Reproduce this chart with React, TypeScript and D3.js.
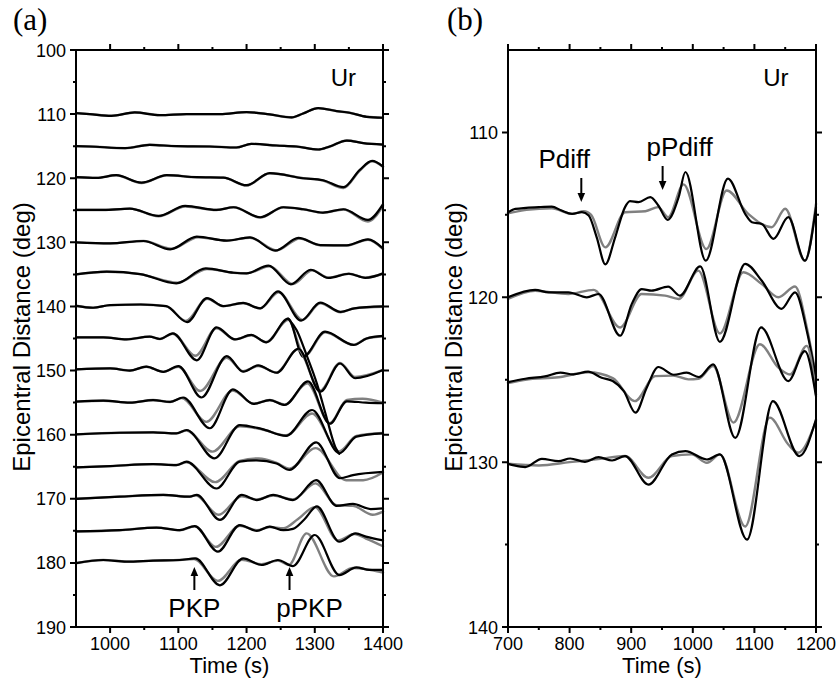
import React from 'react';
import * as d3 from 'd3';

type P = [number, number];

// ---------- Panel (a): PKP records, Ur component ----------
const distancesA = [110, 115, 120, 125, 130, 135, 140, 145, 150, 155, 160, 165, 170, 175, 180];

const a110: P[] = [[950,0.16],[970,0],[1002,-0.26],[1036,0.26],[1073,-0.16],[1112,0],[1161,0],[1200,0.31],[1234,-0.05],[1266,-0.52],[1283,0.1],[1305,0.94],[1332,0.47],[1351,0.21],[1376,-0.42],[1400,-0.57]];
const a115: P[] = [[950,0],[970,-0.05],[1022,-0.31],[1058,0.21],[1097,0],[1146,-0.05],[1185,-0.21],[1207,0.36],[1244,0.1],[1273,-0.05],[1305,-0.52],[1322,-0.05],[1347,0.88],[1371,0.47],[1400,0.25]];
const a120: P[] = [[950,0.16],[980,0.05],[1009,0.47],[1046,-0.68],[1083,0.47],[1127,0.16],[1166,0.1],[1200,-1.09],[1234,0.78],[1283,0],[1312,-0.31],[1342,-1.4],[1366,1.3],[1384,2.7],[1400,1.82]];
const a120g: P[] = [[950,0.16],[980,0.05],[1009,0.47],[1046,-0.75],[1083,0.47],[1127,0.16],[1166,0.1],[1200,-1.15],[1234,0.78],[1283,0],[1312,-0.36],[1342,-1.55],[1366,1.2],[1384,2.65],[1400,1.8]];
const a125: P[] = [[950,0.05],[990,0.05],[1029,0.26],[1071,-0.88],[1110,0.68],[1156,0.05],[1181,0.47],[1220,-1.09],[1254,0.47],[1283,0.16],[1312,-0.36],[1342,0.16],[1378,-1.5],[1400,0.95]];
const a125g: P[] = [[950,0.05],[990,0.05],[1029,0.26],[1071,-0.95],[1110,0.6],[1156,0.05],[1181,0.47],[1220,-1.15],[1254,0.47],[1283,0.16],[1312,-0.4],[1342,0.12],[1378,-1.75],[1400,0.7]];
const a130: P[] = [[950,0],[1000,-0.16],[1049,0.21],[1088,-1.09],[1127,0.88],[1171,0.26],[1205,0.78],[1242,-1.3],[1276,0.68],[1308,-0.42],[1347,-0.47],[1378,0.47],[1400,-0.94]];
const a130g: P[] = [[950,0],[1000,-0.16],[1049,0.21],[1090,-1.0],[1129,0.8],[1171,0.26],[1205,0.72],[1244,-1.25],[1278,0.6],[1308,-0.45],[1347,-0.47],[1378,0.4],[1400,-1.05]];
const a135: P[] = [[950,0],[995,0.42],[1044,0.05],[1097,-1.4],[1140,0.95],[1181,0.26],[1200,0.16],[1232,1.38],[1265,-1.55],[1294,0.72],[1320,-0.55],[1350,0.1],[1374,-0.55],[1400,0.16]];
const a135g: P[] = [[950,0],[995,0.42],[1044,0.05],[1099,-1.3],[1142,0.85],[1181,0.26],[1200,0.16],[1234,1.25],[1268,-1.5],[1296,0.65],[1320,-0.5],[1350,0.1],[1374,-0.5],[1400,0.1]];
const a140: P[] = [[950,0.1],[975,-0.2],[1000,0.2],[1045,0.3],[1082,0.05],[1113,-2.45],[1142,1.3],[1166,0.05],[1195,0.55],[1220,-0.3],[1246,2.35],[1280,-2.2],[1308,0.6],[1338,-0.85],[1358,-0.3],[1400,0]];
const a140g: P[] = [[950,0.1],[975,-0.2],[1000,0.2],[1045,0.3],[1082,0.05],[1111,-2.25],[1142,1.2],[1166,0.05],[1195,0.5],[1220,-0.3],[1247,2.2],[1282,-2.1],[1308,0.5],[1338,-0.9],[1358,-0.3],[1400,-0.05]];
const a145: P[] = [[950,0.18],[990,0.18],[1024,-0.13],[1058,0.29],[1073,-0.08],[1092,0.8],[1127,-3.4],[1156,1.74],[1183,-0.13],[1207,0.55],[1229,-0.6],[1261,3.1],[1283,-2.85],[1315,1.07],[1357,-1.0],[1376,0],[1400,0.4]];
const a145g: P[] = [[950,0.18],[990,0.18],[1024,-0.13],[1058,0.29],[1073,-0.08],[1092,0.75],[1125,-2.7],[1156,1.6],[1183,-0.13],[1207,0.5],[1229,-0.55],[1261,2.9],[1285,-2.7],[1315,0.95],[1357,-1.0],[1376,0],[1400,0.35]];
const a150: P[] = [[950,0.18],[1000,0.34],[1029,0],[1053,0.6],[1078,-0.2],[1100,0.7],[1134,-4.2],[1171,2.26],[1195,-0.18],[1217,0.8],[1244,-0.34],[1276,3.4],[1308,-3.3],[1337,1.1],[1359,-1.2],[1400,0.08]];
const a150g: P[] = [[950,0.18],[1000,0.34],[1029,0],[1053,0.6],[1078,-0.2],[1100,0.6],[1132,-3.2],[1171,2.0],[1195,-0.1],[1217,0.7],[1244,-0.3],[1275,3.3],[1308,-3.1],[1337,1.2],[1359,-1.0],[1400,0.1]];
const a155: P[] = [[950,0.15],[990,0.3],[1029,0],[1063,0.4],[1088,0.1],[1107,0.8],[1146,-4.0],[1180,2.07],[1210,-0.2],[1234,0.4],[1256,-0.37],[1290,3.3],[1322,-3.3],[1347,0.2],[1375,0],[1400,-0.1]];
const a155g: P[] = [[950,0.15],[990,0.3],[1029,0],[1063,0.4],[1088,0.1],[1105,0.7],[1141,-3.0],[1180,1.9],[1210,-0.15],[1234,0.4],[1256,-0.3],[1289,3.0],[1322,-3.2],[1347,0.4],[1370,0.6],[1400,0]];
const a160: P[] = [[950,0.05],[1014,0.3],[1063,0.36],[1097,0.2],[1112,0.73],[1153,-3.7],[1190,1.5],[1222,0.9],[1258,-0.2],[1296,3.85],[1336,-2.9],[1361,-0.3],[1400,0.2]];
const a160g: P[] = [[950,0.05],[1014,0.3],[1063,0.36],[1097,0.2],[1112,0.65],[1150,-2.65],[1190,1.3],[1222,0.85],[1258,-0.1],[1296,3.3],[1336,-2.6],[1361,-0.2],[1400,0.25]];
const a165: P[] = [[950,-0.1],[1000,0.1],[1063,0.4],[1097,0.26],[1112,0.78],[1156,-3.4],[1190,0.8],[1215,1.0],[1244,0.5],[1263,-0.5],[1302,3.8],[1337,-1.8],[1356,-1.3],[1400,-0.8]];
const a165g: P[] = [[950,-0.1],[1000,0.1],[1063,0.4],[1097,0.26],[1112,0.7],[1154,-2.4],[1190,0.9],[1218,1.3],[1244,0.6],[1263,-0.3],[1301,2.9],[1346,-2.1],[1371,-2.1],[1400,-0.9]];
const a170: P[] = [[950,0],[1014,0.33],[1078,0.6],[1117,0.33],[1127,0.6],[1161,-3.3],[1193,0.6],[1215,-0.2],[1239,0.6],[1268,-0.2],[1302,2.9],[1332,-1.1],[1356,-0.8],[1382,-1.6],[1400,-1.5]];
const a170g: P[] = [[950,0],[1014,0.33],[1078,0.6],[1117,0.33],[1125,0.55],[1159,-2.5],[1193,0.4],[1215,-0.1],[1239,0.5],[1268,-0.1],[1301,2.4],[1332,-1.0],[1356,-1.1],[1385,-2.5],[1400,-2.0]];
const a175: P[] = [[950,-0.1],[1014,0.1],[1068,0.5],[1102,0.1],[1124,0.75],[1158,-3.25],[1190,0.9],[1215,0],[1234,0.65],[1254,0.1],[1268,0.3],[1285,1.8],[1303,3.8],[1336,-1.7],[1360,-0.4],[1375,-0.9],[1400,-1.5]];
const a175g: P[] = [[950,-0.1],[1014,0.1],[1068,0.5],[1102,0.1],[1124,0.7],[1155,-2.5],[1190,0.8],[1215,0.1],[1234,0.6],[1254,0.4],[1275,1.8],[1300,3.7],[1334,-1.5],[1358,-0.5],[1375,-1.2],[1400,-2.4]];
const a180: P[] = [[950,-0.05],[990,0.45],[1024,0.2],[1063,0.35],[1102,0.45],[1125,0.7],[1161,-3.5],[1195,0.7],[1222,-0.33],[1246,0.45],[1268,-0.5],[1300,4.35],[1336,-1.9],[1361,-0.7],[1380,-1.1],[1400,-1.1]];
const a180g: P[] = [[950,-0.05],[990,0.45],[1024,0.2],[1063,0.35],[1102,0.45],[1123,0.6],[1158,-2.8],[1193,0.5],[1222,-0.2],[1246,0.35],[1262,-0.3],[1288,4.6],[1328,-2.1],[1356,-0.8],[1400,-1.5]];

// black segment joining the 145 deg peak to the 160 deg trough ([time, distance])
const aCross: P[] = [[1261,141.9],[1273.5,143.7],[1288,147.6],[1303,152.0],[1317,157.2],[1330,161.9],[1336,163.0]];

const blackA = [a110, a115, a120, a125, a130, a135, a140, a145, a150, a155, a160, a165, a170, a175, a180];
const grayA = [a110, a115, a120g, a125g, a130g, a135g, a140g, a145g, a150g, a155g, a160g, a165g, a170g, a175g, a180g];

const phasesA = ['PKP', 'pPKP'];
const phaseTimesA = [1123.5, 1263];

const xTicksA = [1000, 1100, 1200, 1300, 1400];
const xMinorA = [1050, 1150, 1250, 1350];
const yTicksA = [100, 110, 120, 130, 140, 150, 160, 170, 180, 190];
const yMinorA = [105, 115, 125, 135, 145, 155, 165, 175, 185];

// ---------- Panel (b): Pdiff records, Ur component ----------
const distancesB = [115, 120, 125, 130];

const b115: P[] = [[700,0.15],[712,0.36],[750,0.47],[771,0.5],[787,0.26],[804,0.06],[820,0.16],[831,-0.04],[844,-1.36],[858,-3.0],[874,-1.36],[890,0.47],[898,0.83],[912,0.77],[931,1.07],[944,0.57],[959,-0.3],[977,1.07],[988,2.6],[1021,-2.78],[1057,2.2],[1085,0.06],[1096,-0.45],[1112,-0.55],[1131,-1.46],[1155,-0.14],[1182,-2.78],[1200,0.47]];
const b115g: P[] = [[700,0.1],[730,0.3],[771,0.4],[804,0.06],[823,0.22],[835,0],[858,-1.97],[890,0.16],[923,0.22],[944,0.47],[960,-0.14],[985,1.85],[1022,-2.07],[1055,1.48],[1090,0.06],[1128,-0.75],[1150,0.37],[1182,-2.78],[1200,0.67]];
const b120: P[] = [[700,0],[744,0.45],[766,0.3],[798,0.3],[828,0],[847,0.2],[882,-2.33],[901,-0.4],[917,0.5],[933,0.4],[960,0.65],[979,0.1],[1012,1.87],[1044,-2.7],[1085,2.03],[1112,1.0],[1144,-0.7],[1166,0.3],[1186,-2.2],[1200,-4.9]];
const b120g: P[] = [[700,-0.1],[744,0.4],[798,0.2],[839,0.45],[882,-1.83],[917,0.2],[955,0.1],[977,-0.1],[1009,1.62],[1044,-2.2],[1082,1.52],[1112,0.8],[1139,0],[1166,0.65],[1186,-2.0],[1200,-4.8]];
const b125: P[] = [[700,-0.15],[728,0.06],[760,0.2],[785,0.43],[806,0.32],[830,0.49],[852,0.12],[870,-0.08],[888,-0.69],[907,-2.0],[925,-0.5],[944,0.77],[969,0.3],[990,0.43],[1010,0.16],[1033,0.93],[1069,-3.53],[1111,3.17],[1155,-0.08],[1182,1.74],[1200,-1.0]];
const b125g: P[] = [[700,-0.2],[728,0],[782,0.15],[830,0.45],[870,0.1],[906,-1.3],[939,0.22],[968,0.25],[993,0.02],[1009,0.05],[1033,0.83],[1066,-2.6],[1109,2.15],[1139,0.73],[1158,0.32],[1185,2.05],[1200,-0.9]];
const b130: P[] = [[700,-0.1],[710,-0.2],[728,-0.3],[755,0.2],[782,0.06],[801,0.22],[825,0.02],[847,0.3],[869,0.1],[890,0.37],[928,-1.36],[966,0.47],[988,0.67],[1023,0.16],[1044,0.47],[1088,-4.7],[1130,3.7],[1173,0.37],[1200,2.6]];
const b130g: P[] = [[700,-0.1],[750,-0.2],[800,0.0],[850,0.2],[890,0.37],[928,-0.95],[966,0.37],[998,0.47],[1023,-0.04],[1044,0.47],[1085,-3.9],[1125,2.7],[1155,1.07],[1171,0.57],[1200,2.5]];

const blackB = [b115, b120, b125, b130];
const grayB = [b115g, b120g, b125g, b130g];

const phasesB = ['Pdiff', 'pPdiff'];
const phaseTimesB = [819, 951];

const xTicksB = [700, 800, 900, 1000, 1100, 1200];
const xMinorB = [750, 850, 950, 1050, 1150];
const yTicksB = [110, 120, 130, 140];
const yMinorB = [115, 125, 135];

// ---------- layout ----------
const W = 838, H = 678;
const TOP = 50, BOTTOM = 627;
const SANS = '"Liberation Sans", Arial, Helvetica, sans-serif';
const SERIF = '"Liberation Serif", "Times New Roman", serif';
const GRAY = '#808080';

type Lin = d3.ScaleLinear<number, number>;

function Frame({ x, y, xt, xm, yt, ym }: { x: Lin; y: Lin; xt: number[]; xm: number[]; yt: number[]; ym: number[] }) {
  const [x0, x1] = x.range();
  const [y0, y1] = y.range();
  const MAJ = 6, MIN = 3;
  const segs: string[] = [];
  const all = [...xt.map(v => [v, MAJ]), ...xm.map(v => [v, MIN])];
  all.forEach(([v, L]) => {
    const px = x(v);
    segs.push(`M${px},${y0}V${y0 - L}`);
    segs.push(`M${px},${y1}V${y1 + L}`);
  });
  const ally = [...yt.map(v => [v, MAJ]), ...ym.map(v => [v, MIN])];
  ally.forEach(([v, L]) => {
    const py = y(v);
    segs.push(`M${x0},${py}H${x0 - L}`);
    segs.push(`M${x1},${py}H${x1 + L}`);
  });
  return (
    <g>
      <path d={segs.join('')} stroke="#000" strokeWidth={2} fill="none" />
      <rect x={x0} y={y0} width={x1 - x0} height={y1 - y0} fill="none" stroke="#000" strokeWidth={2} />
      {xt.map(v => (
        <text key={'x' + v} x={x(v)} y={y1 + 22.5} textAnchor="middle" fontSize={18} fontFamily={SANS}>{v}</text>
      ))}
      {yt.map(v => (
        <text key={'y' + v} x={x0 - 10} y={y(v) + 6.5} textAnchor="end" fontSize={18} fontFamily={SANS}>{v}</text>
      ))}
      <text x={(x0 + x1) / 2} y={673} textAnchor="middle" fontSize={22} fontFamily={SANS}>Time (s)</text>
    </g>
  );
}

function Traces({ x, y, dists, black, gray }: { x: Lin; y: Lin; dists: number[]; black: P[][]; gray: P[][] }) {
  return (
    <g fill="none" strokeLinejoin="round" strokeLinecap="round">
      {dists.map((d, i) => {
        const line = d3.line<P>().x(p => x(p[0])).y(p => y(d - p[1])).curve(d3.curveMonotoneX);
        return (
          <g key={d}>
            <path d={line(gray[i]) || ''} stroke={GRAY} strokeWidth={2.4} />
            <path d={line(black[i]) || ''} stroke="#000" strokeWidth={2.2} />
          </g>
        );
      })}
    </g>
  );
}

function Arrow({ x, yTail, yTip }: { x: number; yTail: number; yTip: number }) {
  const dir = yTip > yTail ? 1 : -1;
  const hb = yTip - dir * 9;
  return (
    <g>
      <path d={`M${x},${yTail}V${hb}`} stroke="#000" strokeWidth={2} />
      <path d={`M${x - 3.8},${hb}L${x + 3.8},${hb}L${x},${yTip}Z`} fill="#000" />
    </g>
  );
}

export default function App() {
  const xA = d3.scaleLinear().domain([950, 1400]).range([76, 383]);
  const yA = d3.scaleLinear().domain([100, 190]).range([TOP, BOTTOM]);
  const xB = d3.scaleLinear().domain([700, 1200]).range([508, 816]);
  const yB = d3.scaleLinear().domain([105, 140]).range([TOP, BOTTOM]);

  const crossLine = d3.line<P>().x(p => xA(p[0])).y(p => yA(p[1])).curve(d3.curveMonotoneX);

  return (
    <svg width={W} height={H} viewBox={`0 0 ${W} ${H}`} style={{ position: 'absolute', left: 0, top: 0, background: '#fff' }}>
      <rect width={W} height={H} fill="#fff" />
      {/* Panel (a) */}
      <text x={13} y={30} fontSize={31} fontFamily={SERIF}>(a)</text>
      <Traces x={xA} y={yA} dists={distancesA} black={blackA} gray={grayA} />
      <path d={crossLine(aCross) || ''} stroke="#000" strokeWidth={2.2} fill="none" strokeLinecap="round" />
      <Frame x={xA} y={yA} xt={xTicksA} xm={xMinorA} yt={yTicksA} ym={yMinorA} />
      <text x={356} y={86} textAnchor="end" fontSize={24} fontFamily={SANS}>Ur</text>
      <text transform={`translate(29.5,337) rotate(-90)`} textAnchor="middle" fontSize={24} fontFamily={SANS}>Epicentral Distance (deg)</text>
      {phaseTimesA.map((t, i) => (
        <g key={phasesA[i]}>
          <Arrow x={xA(t)} yTail={590} yTip={567} />
          <text x={xA(t) + (i === 0 ? 0 : 20)} y={616.5} textAnchor="middle" fontSize={26} fontFamily={SANS}>{phasesA[i]}</text>
        </g>
      ))}

      {/* Panel (b) */}
      <text x={447} y={30} fontSize={31} fontFamily={SERIF}>(b)</text>
      <Traces x={xB} y={yB} dists={distancesB} black={blackB} gray={grayB} />
      <Frame x={xB} y={yB} xt={xTicksB} xm={xMinorB} yt={yTicksB} ym={yMinorB} />
      <text x={788.5} y={86} textAnchor="end" fontSize={24} fontFamily={SANS}>Ur</text>
      <text transform={`translate(461.5,337) rotate(-90)`} textAnchor="middle" fontSize={24} fontFamily={SANS}>Epicentral Distance (deg)</text>
      {phaseTimesB.map((t, i) => (
        <g key={phasesB[i]}>
          <Arrow x={xB(t)} yTail={i === 0 ? 178 : 166} yTip={i === 0 ? 202 : 190} />
          <text x={xB(t) + (i === 0 ? -17 : 17)} y={i === 0 ? 168 : 155.5} textAnchor="middle" fontSize={26} fontFamily={SANS}>{phasesB[i]}</text>
        </g>
      ))}
    </svg>
  );
}
